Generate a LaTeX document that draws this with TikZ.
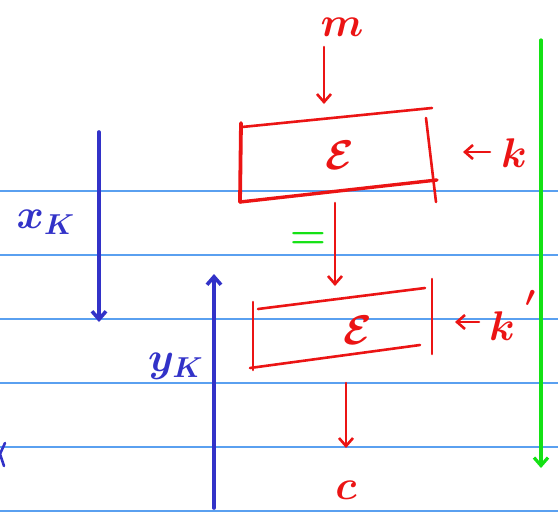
\documentclass[tikz,border=0pt]{standalone}
\usetikzlibrary{arrows.meta}
\definecolor{rule}{RGB}{90,160,240}
\definecolor{penred}{RGB}{235,20,20}
\definecolor{penblue}{RGB}{50,50,200}
\definecolor{pengreen}{RGB}{20,225,20}
\tikzset{
  ruleline/.style={rule, line width=1.4pt},
  redpen/.style={penred, line width=2.6pt, line cap=round, line join=round},
  bluepen/.style={penblue, line width=3.6pt, line cap=round, line join=round},
  greenpen/.style={pengreen, line width=3.2pt, line cap=round, line join=round},
  barb/.style={-{Straight Barb[length=8pt,width=14pt]}},
  lbl/.style={inner sep=0pt, font=\LARGE\boldmath, scale=2.4},
}
\begin{document}
\begin{tikzpicture}[x=1pt,y=-1pt]
\useasboundingbox (0,0) rectangle (558,517);
% ruled lines
\foreach \yy in {191,255,319,383,447,511}
  \draw[ruleline] (0,\yy) -- (558,\yy);
% blue x_K arrow
\coordinate (xs) at (99,132);
\coordinate (xe) at (99,322);
\draw[bluepen,barb] (xs) -- (xe);
\node[lbl,penblue] (xk) at (46,222) {$x_{K}$};
% blue y_K arrow
\coordinate (ys) at (214,508);
\coordinate (ye) at (214,274);
\draw[bluepen,barb] (ys) -- (ye);
\node[lbl,penblue] (yk) at (176,366) {$y_{K}$};
% partial letter at left edge
\draw[bluepen,line width=2.6pt] (5,443) -- (0,454) -- (4,466);
% green arrow
\coordinate (gs) at (541,40);
\coordinate (ge) at (541,468);
\draw[greenpen,barb] (gs) -- (ge);
\node[lbl,pengreen] (eq) at (308,240) {$=$};
% top message
\node[lbl,penred] (m) at (342,27) {$m$};
\coordinate (ma) at (324,47);
\coordinate (mb) at (324,104);
\draw[redpen,barb] (ma) -- (mb);
% box 1
\coordinate (b1tl) at (242,127);
\coordinate (b1tr) at (432,108);
\coordinate (b1bl) at (240,202);
\coordinate (b1br) at (437,180);
\draw[redpen] (b1tl) -- (b1tr);
\draw[redpen,line width=3.8pt] (241,123) -- (b1bl);
\draw[redpen,line width=3.4pt] (b1bl) -- (b1br);
\draw[redpen] (426,118) -- (436,202);
\node[lbl,penred] (E1) at (340,155) {$\mathcal{E}$};
\node[lbl,penred] (k1) at (514,153) {$k$};
\coordinate (k1a) at (490,152);
\coordinate (k1b) at (463,152);
\draw[redpen,barb] (k1a) -- (k1b);
% middle arrow
\coordinate (c1) at (335,203);
\coordinate (c2) at (335,286);
\draw[redpen,barb] (c1) -- (c2);
% box 2
\draw[redpen] (258,309) -- (425,288);
\draw[redpen] (253,302) -- (253,370);
\draw[redpen] (250,368) -- (420,345);
\draw[redpen] (432,279) -- (432,354);
\node[lbl,penred] (E2) at (358,330) {$\mathcal{E}$};
\node[lbl,penred] (k2) at (502,326) {$k$};
\node[lbl,penred] (pr) at (531,306) {$'$};
\coordinate (k2a) at (479,322);
\coordinate (k2b) at (455,322);
\draw[redpen,barb] (k2a) -- (k2b);
% bottom arrow
\coordinate (d1) at (346,383);
\coordinate (d2) at (346,448);
\draw[redpen,barb] (d1) -- (d2);
\node[lbl,penred] (c) at (346,490) {$c$};
\end{tikzpicture}
\end{document}
